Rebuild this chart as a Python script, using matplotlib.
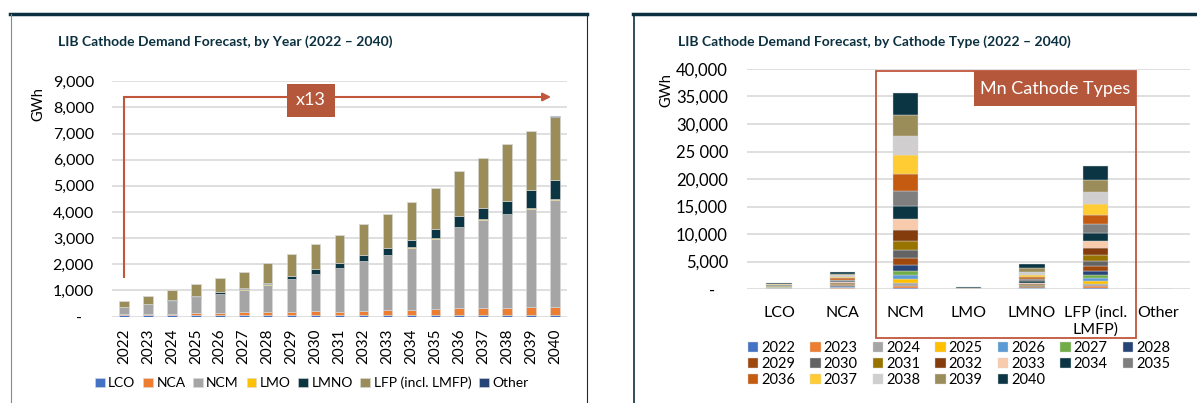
import numpy as np
import matplotlib
matplotlib.use("Agg")
import matplotlib.pyplot as plt
from matplotlib.patches import Rectangle
from matplotlib.lines import Line2D

plt.rcParams["font.family"] = ["Lato", "DejaVu Sans"]

# --- data (GWh) ---
YEARS = list(range(2022, 2041))
CATHODES = ["LCO", "NCA", "NCM", "LMO", "LMNO", "LFP (incl. LMFP)", "Other"]
CAT_TICKS = ["LCO", "NCA", "NCM", "LMO", "LMNO", "LFP (incl.\nLMFP)", "Other"]

LCO = [45, 45, 45, 50, 50, 50, 50, 55, 55, 55, 55, 60, 60, 60, 60, 60, 65, 65, 65]
NCA = [65, 55, 55, 75, 80, 110, 115, 120, 140, 135, 160, 180, 195, 230, 270, 270, 275, 280, 315]
NCM = [260, 360, 500, 625, 735, 870, 1055, 1250, 1435, 1655, 1910, 2100, 2380, 2690, 3080, 3370, 3565, 3775, 4085]
LMO = [5, 5, 5, 5, 5, 10, 10, 10, 10, 15, 15, 15, 20, 20, 20, 25, 25, 30, 30]
LMNO = [5, 10, 10, 15, 70, 40, 70, 105, 165, 175, 200, 250, 275, 340, 400, 430, 480, 700, 730]
LFP = [210, 315, 390, 475, 535, 640, 735, 865, 970, 1080, 1210, 1325, 1460, 1560, 1755, 1925, 2175, 2255, 2415]
OTHER = [0, 0, 0, 0, 0, 0, 0, 0, 0, 0, 0, 0, 0, 0, 0, 0, 5, 5, 20]

CAT_COLORS = ["#4472C4", "#ED7D31", "#A5A5A5", "#FFC000", "#0B3542", "#9B8D5A", "#264478"]
YEAR_COLORS = ["#4472C4", "#ED7D31", "#A5A5A5", "#FFC000", "#5B9BD5", "#70AD47", "#264478",
               "#9E480E", "#636363", "#997300", "#843C0C", "#F8CBAD", "#0B3542", "#7F7F7F",
               "#C55A11", "#FFCC33", "#D0CECE", "#9B8D5A", "#0B3542"]

LEFT_YTICKS = list(range(0, 9001, 1000))
RIGHT_YTICKS = list(range(0, 40001, 5000))

TEAL = "#0B3040"
RUST = "#B5573A"
GRID = "#D9D9D9"

W, H = 1197, 403


def fx(px):
    return px / W


def fy(py):
    return 1 - py / H


def tick_fmt(v):
    if v == 0:
        return "-   "
    return f"{v:,}"


fig = plt.figure(figsize=(W / 100, H / 100), dpi=100)

# panel frames
fig.add_artist(Line2D([fx(10), fx(587)], [fy(14), fy(14)], color=TEAL, lw=2.5))
fig.add_artist(Line2D([fx(10.5), fx(10.5)], [fy(14), 0], color="#7f8c90", lw=0.8))
fig.add_artist(Line2D([fx(586.5), fx(586.5)], [fy(14), 0], color=TEAL, lw=0.8))
fig.add_artist(Line2D([fx(633), fx(1197)], [fy(14), fy(14)], color=TEAL, lw=2.5))
fig.add_artist(Line2D([fx(633.5), fx(633.5)], [fy(14), 0], color=TEAL, lw=1.2))

# ---------------- left: by year ----------------
ax1 = fig.add_axes([fx(112), fy(316.5), (567 - 112) / W, (316.5 - 81.3) / H])
x = np.arange(len(YEARS))
bottom = np.zeros(len(YEARS))
for name, vals, col in zip(CATHODES, [LCO, NCA, NCM, LMO, LMNO, LFP, OTHER], CAT_COLORS):
    ax1.bar(x, vals, 0.4, bottom=bottom, color=col, edgecolor=GRID, linewidth=0.4,
            label=name, zorder=3)
    bottom += np.array(vals)

ax1.set_xlim(-0.5, len(YEARS) - 0.5)
ax1.set_ylim(0, 9000)
ax1.set_yticks(LEFT_YTICKS)
ax1.set_yticklabels([tick_fmt(v) for v in LEFT_YTICKS], fontsize=11.5)
ax1.set_xticks(x)
ax1.set_xticklabels([str(y) for y in YEARS], rotation=90, fontsize=11)
ax1.tick_params(axis="y", length=0, pad=13)
ax1.tick_params(axis="x", length=0, pad=9)
ax1.yaxis.grid(True, color=GRID, lw=1.2)
ax1.set_axisbelow(True)
for s in ax1.spines.values():
    s.set_visible(False)

# x13 growth arrow
ax1.plot([0, 0, 17.5], [1470, 8400, 8400], color="#C0563C", lw=1.5, zorder=4,
         solid_capstyle="butt", solid_joinstyle="miter")
ax1.annotate("", xy=(17.95, 8400), xytext=(17.3, 8400),
             arrowprops=dict(arrowstyle="-|>", color="#C0563C", lw=1.5, mutation_scale=12),
             zorder=4)
ax1.add_patch(Rectangle((6.79, 7635), 2.02, 1263, facecolor=RUST, edgecolor="none", zorder=5))
ax1.text(7.8, 8266, "x13", color="white", fontsize=13, ha="center", va="center", zorder=6)

fig.text(fx(58), fy(42), "LIB Cathode Demand Forecast, by Year (2022 \u2013 2040)",
         fontsize=10, fontweight="bold", color=TEAL, va="center")
fig.text(fx(38), fy(104), "GWh", rotation=90, ha="center", va="center", fontsize=10.5)

fig.legend(*ax1.get_legend_handles_labels(), loc="center left",
           bbox_to_anchor=(fx(95), fy(383)), ncol=7, frameon=False, fontsize=10,
           handlelength=0.7, handleheight=0.7, handletextpad=0.25, columnspacing=0.55,
           borderaxespad=0, borderpad=0)

# ---------------- right: by cathode type ----------------
ax2 = fig.add_axes([fx(747.4), fy(289), (1190 - 747.4) / W, (289 - 69) / H])
by_type = np.array([LCO, NCA, NCM, LMO, LMNO, LFP, OTHER])
xc = np.arange(len(CATHODES))
bottom = np.zeros(len(CATHODES))
handles = []
for j, yr in enumerate(YEARS):
    b = ax2.bar(xc, by_type[:, j], 0.4, bottom=bottom, color=YEAR_COLORS[j],
                edgecolor=GRID, linewidth=0.3, label=str(yr), zorder=3)
    handles.append(b)
    bottom += by_type[:, j]

ax2.set_xlim(-0.5, len(CATHODES) - 0.5)
ax2.set_ylim(0, 40000)
ax2.set_yticks(RIGHT_YTICKS)
rlabels = [tick_fmt(v) for v in RIGHT_YTICKS]
rlabels[5] = "25 000"
ax2.set_yticklabels(rlabels, fontsize=12)
ax2.set_xticks(xc)
ax2.set_xticklabels(CAT_TICKS, fontsize=11.5, linespacing=1.25)
ax2.tick_params(axis="y", length=0, pad=14)
ax2.tick_params(axis="x", length=0, pad=12)
ax2.yaxis.grid(True, color=GRID, lw=1.2)
ax2.set_axisbelow(True)
for s in ax2.spines.values():
    s.set_visible(False)

fig.text(fx(678), fy(42), "LIB Cathode Demand Forecast, by Cathode Type (2022 \u2013 2040)",
         fontsize=10, fontweight="bold", color=TEAL, va="center")
fig.text(fx(666), fy(90), "GWh", rotation=90, ha="center", va="center", fontsize=10.5)

# Mn cathode highlight
fig.add_artist(Rectangle((fx(876), fy(338)), (1136 - 876) / W, (338 - 71) / H,
                         transform=fig.transFigure, fill=False, edgecolor="#C0563C", lw=1.3))
fig.add_artist(Rectangle((fx(974), fy(106)), (1136 - 974) / W, (106 - 71) / H,
                         transform=fig.transFigure, facecolor=RUST, edgecolor="none"))
fig.text(fx(1055), fy(89), "Mn Cathode Types", color="white", fontsize=13,
         ha="center", va="center")

# legend laid out row by row (7 per row)
ncol, nrow = 7, 3
order = [r * ncol + c for c in range(ncol) for r in range(nrow) if r * ncol + c < len(YEARS)]
fig.legend([handles[i] for i in order], [str(YEARS[i]) for i in order], loc="upper left",
           bbox_to_anchor=(fx(748), fy(341)), ncol=ncol, frameon=False, fontsize=10.5,
           handlelength=0.7, handleheight=0.7, handletextpad=0.2, columnspacing=1.05,
           labelspacing=0.15, borderaxespad=0, borderpad=0)

fig.savefig("out.png", dpi=100, facecolor="white")
